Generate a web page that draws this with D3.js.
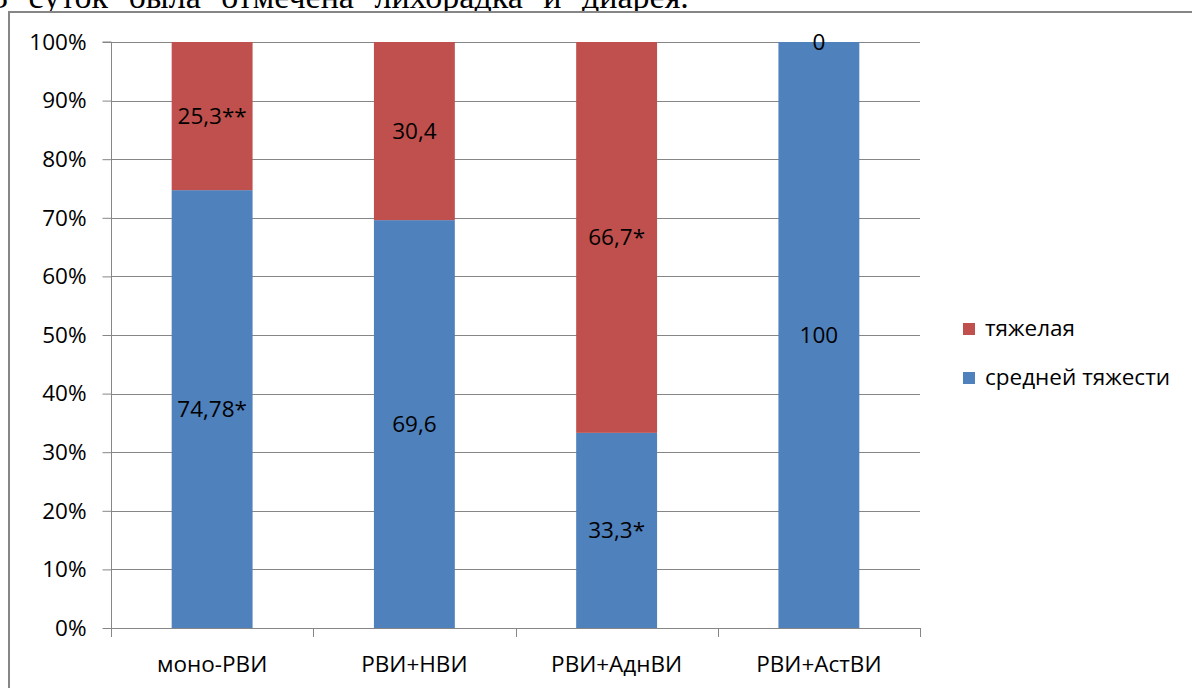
<!DOCTYPE html>
<html>
<head>
<meta charset="utf-8">
<script src="https://cdn.jsdelivr.net/npm/d3@7"></script>
<style>
  html, body { margin: 0; padding: 0; background: #fff; }
  svg { display: block; }
</style>
</head>
<body>
<svg id="chart" width="1192" height="688"></svg>
<script>
// Groups and severity shares (per cent of cases)
const categories = ["моно-РВИ", "РВИ+НВИ", "РВИ+АднВИ", "РВИ+АстВИ"];
const moderate = [74.78, 69.6, 33.3, 100];
const severe = [25.3, 30.4, 66.7, 0];
const moderateLabels = ["74,78*", "69,6", "33,3*", "100"];
const severeLabels = ["25,3**", "30,4", "66,7*", "0"];
const seriesNames = ["тяжелая", "средней тяжести"];
const yTicks = [0, 0.1, 0.2, 0.3, 0.4, 0.5, 0.6, 0.7, 0.8, 0.9, 1];

const colors = { moderate: "#4F81BD", severe: "#C0504D" };
const font = "'Open Sans', 'Noto Sans', sans-serif";
const fontSize = 22.5;

const svg = d3.select("#chart");

// Line of body text above the chart frame
svg.append("text")
  .attr("x", -9).attr("y", 8)
  .attr("font-family", "'Liberation Serif', 'Times New Roman', serif")
  .attr("font-size", 34)
  .attr("word-spacing", 12)
  .attr("fill", "#000")
  .text("3 суток была отмечена лихорадка и диарея.");

// Chart frame
svg.append("rect")
  .attr("x", 9).attr("y", 12)
  .attr("width", 1200).attr("height", 700)
  .attr("fill", "#fff")
  .attr("stroke", "#868686").attr("stroke-width", 2);

const plot = { left: 111, right: 920, top: 42, bottom: 628 };

const x = d3.scaleBand()
  .domain(categories)
  .range([plot.left, plot.right])
  .paddingInner(0.6)
  .paddingOuter(0.3);

const y = d3.scaleLinear().domain([0, 1]).range([plot.bottom, plot.top]);

// Rows of stacked shares, normalised to 100 %
const rows = categories.map((c, i) => ({
  cat: c, moderate: moderate[i], severe: severe[i],
  moderateLabel: moderateLabels[i], severeLabel: severeLabels[i]
}));
const stacked = d3.stack()
  .keys(["moderate", "severe"])
  .offset(d3.stackOffsetExpand)(rows);

// Horizontal gridlines
svg.append("g")
  .selectAll("line")
  .data(yTicks)
  .join("line")
  .attr("x1", plot.left).attr("x2", plot.right)
  .attr("y1", d => Math.round(y(d)) + 0.5).attr("y2", d => Math.round(y(d)) + 0.5)
  .attr("stroke", "#868686").attr("stroke-width", 1);

// Bars
const layers = svg.append("g")
  .selectAll("g")
  .data(stacked)
  .join("g")
  .attr("fill", d => colors[d.key]);

layers.selectAll("rect")
  .data(d => d)
  .join("rect")
  .attr("x", d => x(d.data.cat))
  .attr("width", x.bandwidth())
  .attr("y", d => y(d[1]))
  .attr("height", d => y(d[0]) - y(d[1]));

// Y axis
const yAxis = svg.append("g")
  .attr("transform", `translate(${plot.left + 0.5},0)`)
  .call(d3.axisLeft(y)
    .tickValues(yTicks)
    .tickFormat(d3.format(".0%"))
    .tickSize(9)
    .tickPadding(16));
yAxis.select(".domain").attr("stroke", "#868686").attr("d", `M-9,${y(1)}H0V${y(0)}`);
yAxis.selectAll(".tick line").attr("stroke", "#868686");
yAxis.selectAll(".tick text")
  .attr("font-family", font).attr("font-size", fontSize).attr("fill", "#000");

// X axis with ticks at category boundaries
const boundaries = d3.range(categories.length + 1).map(i => plot.left + i * x.step());
const xAxis = svg.append("g");
xAxis.append("line")
  .attr("x1", plot.left).attr("x2", plot.right)
  .attr("y1", plot.bottom + 0.5).attr("y2", plot.bottom + 0.5)
  .attr("stroke", "#868686");
xAxis.selectAll(".bt")
  .data(boundaries)
  .join("line")
  .attr("class", "bt")
  .attr("x1", d => Math.round(d) + 0.5).attr("x2", d => Math.round(d) + 0.5)
  .attr("y1", plot.bottom).attr("y2", plot.bottom + 9)
  .attr("stroke", "#868686");
xAxis.selectAll("text")
  .data(categories)
  .join("text")
  .attr("x", d => x(d) + x.bandwidth() / 2)
  .attr("y", 672)
  .attr("text-anchor", "middle")
  .attr("font-family", font).attr("font-size", fontSize).attr("fill", "#000")
  .text(d => d);

// Data labels centred in each segment
layers.selectAll("text")
  .data(d => d.map(p => ({ p, key: d.key })))
  .join("text")
  .attr("x", d => x(d.p.data.cat) + x.bandwidth() / 2)
  .attr("y", d => (y(d.p[0]) + y(d.p[1])) / 2)
  .attr("dy", "0.35em")
  .attr("text-anchor", "middle")
  .attr("font-family", font).attr("font-size", fontSize).attr("fill", "#000")
  .text(d => d.key === "moderate" ? d.p.data.moderateLabel : d.p.data.severeLabel);

// Legend
const legendKeys = ["severe", "moderate"];
const legend = svg.append("g")
  .selectAll("g")
  .data(legendKeys)
  .join("g")
  .attr("transform", (d, i) => `translate(963,${323 + i * 49})`);
legend.append("rect")
  .attr("width", 12).attr("height", 12)
  .attr("fill", d => colors[d]);
legend.append("text")
  .attr("x", 22).attr("y", 13)
  .attr("font-family", font).attr("font-size", fontSize).attr("fill", "#000")
  .text((d, i) => seriesNames[i]);
</script>
</body>
</html>
